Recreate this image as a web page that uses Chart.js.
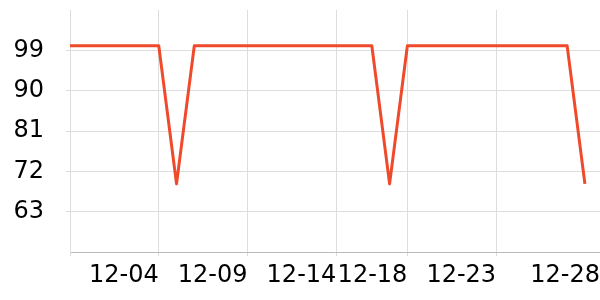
<!DOCTYPE html>
<html>
<head>
<meta charset="utf-8">
<script src="https://cdn.jsdelivr.net/npm/chart.js@4/dist/chart.umd.min.js"></script>
<style>
  html, body { margin: 0; padding: 0; background: #fff; }
  #wrap { width: 600px; height: 300px; }
</style>
</head>
<body>
<div id="wrap"><canvas id="myChart" width="600" height="300"></canvas></div>
<script>
// days shown on the x axis, 11-29 .. 12-28
const days = [
    '11-29', '11-30', '12-01', '12-02', '12-03', '12-04', '12-05', '12-06', '12-07', '12-08',
    '12-09', '12-10', '12-11', '12-12', '12-13', '12-14', '12-15', '12-16', '12-17', '12-18',
    '12-19', '12-20', '12-21', '12-22', '12-23', '12-24', '12-25', '12-26', '12-27', '12-28'
];
const uptime = [
    100, 100, 100, 100, 100, 100, 69.2, 100, 100, 100,
    100, 100, 100, 100, 100, 100, 100, 100, 69.2, 100,
    100, 100, 100, 100, 100, 100, 100, 100, 100, 69.2
];
// labelled days and y tick values
const xTickDays = ['11-29', '12-04', '12-09', '12-14', '12-18', '12-23'];
const lastLabel = '12-28';
const yTicks = [63, 72, 81, 90, 99];

const X_MAX = 29.85;   // plot runs a little past the last day
const gridColor = '#dddddd';
const tickFont = { family: 'DejaVu Sans', size: 24 };

const points = uptime.map((v, i) => ({ x: i, y: v }));

function noPad(axis) {
    axis.paddingTop = 0;
    axis.paddingBottom = 0;
    axis.paddingLeft = 0;
    axis.paddingRight = 0;
}

new Chart(document.getElementById('myChart').getContext('2d'), {
    type: 'line',
    data: {
        datasets: [{
            data: points,
            borderColor: '#ef4a2b',
            borderWidth: 3,
            borderJoinStyle: 'round',
            pointRadius: 0,
            tension: 0,
            fill: false
        }]
    },
    options: {
        responsive: false,
        animation: false,
        events: [],
        layout: { padding: { top: 10, right: 0, left: 0, bottom: 0 } },
        plugins: { legend: { display: false }, tooltip: { enabled: false } },
        scales: {
            x: {
                type: 'linear',
                min: 0,
                max: X_MAX,
                afterBuildTicks: axis => {
                    const t = xTickDays.map(d => ({ value: days.indexOf(d) }));
                    t.push({ value: X_MAX });
                    axis.ticks = t;
                },
                afterFit: axis => { axis.height = 48; noPad(axis); },
                grid: {
                    color: ctx => (ctx.tick && ctx.tick.value === X_MAX) ? 'rgba(0,0,0,0)' : gridColor,
                    tickLength: 4
                },
                border: { color: '#bbbbbb' },
                ticks: {
                    autoSkip: false,
                    maxRotation: 0,
                    align: 'end',
                    padding: 5,
                    color: '#000',
                    font: tickFont,
                    callback: value => {
                        if (value === X_MAX) return lastLabel;
                        if (value === 0) return '';
                        return days[value];
                    }
                }
            },
            y: {
                min: 54,
                max: 108,
                afterBuildTicks: axis => {
                    axis.ticks = [54].concat(yTicks, [108]).map(v => ({ value: v }));
                },
                afterFit: axis => { axis.width = 70; noPad(axis); },
                grid: { color: gridColor, tickLength: 4 },
                border: { color: gridColor },
                ticks: {
                    padding: 22,
                    color: '#000',
                    font: tickFont,
                    callback: value => yTicks.includes(value) ? String(value) : null
                }
            }
        }
    }
});
</script>
</body>
</html>
